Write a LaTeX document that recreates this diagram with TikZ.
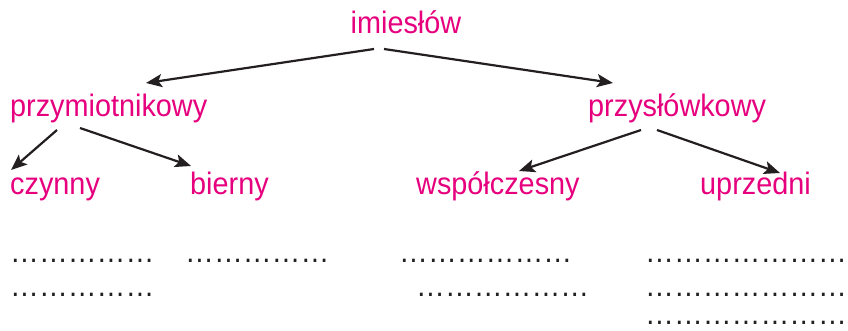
\documentclass[tikz,border=0pt]{standalone}
\usepackage{fontspec}
\setmainfont{Liberation Sans}
\newfontfamily\labfont[FakeStretch=0.93]{Liberation Sans}
\usetikzlibrary{arrows.meta}
\definecolor{pinkc}{HTML}{E6007E}
\definecolor{darkc}{HTML}{231F20}
\tikzset{
  lab/.style={inner sep=0pt, text=pinkc, font=\labfont\fontsize{31}{31}\selectfont},
  dots/.style={inner sep=0pt, text=darkc, font=\labfont\fontsize{31}{31}\selectfont},
  arr/.style={draw=darkc, line width=2.2pt, -{Stealth[length=16pt,width=13pt,inset=3.5pt]}}
}
\begin{document}
\begin{tikzpicture}[x=1pt,y=-1pt]
\useasboundingbox (0,0) rectangle (848,331);
\node[lab, anchor=base] (im) at (406,34) {imiesłów};
\node[lab, anchor=base west] (pm) at (10,117) {przymiotnikowy};
\node[lab, anchor=base west] (ps) at (588,117) {przysłówkowy};
\node[lab, anchor=base west] (cz) at (10,195) {czynny};
\node[lab, anchor=base west] (bi) at (190,195) {bierny};
\node[lab, anchor=base west] (ws) at (416,195) {współczesny};
\node[lab, anchor=base west] (up) at (700,195) {uprzedni};

\draw[arr] ([shift={(-32,15)}]im.base) -- ([shift={(136,-34)}]pm.base west);
\draw[arr] ([shift={(-22,15)}]im.base) -- ([shift={(25,-34)}]ps.base west);
\draw[arr] ([shift={(47,13)}]pm.base west) -- ([shift={(1,-25)}]cz.base west);
\draw[arr] ([shift={(70,11)}]pm.base west) -- ([shift={(1,-29)}]bi.base west);
\draw[arr] ([shift={(53,13)}]ps.base west) -- ([shift={(103,-24)}]ws.base west);
\draw[arr] ([shift={(69,13)}]ps.base west) -- ([shift={(80,-22)}]up.base west);

\node[dots, anchor=base west] (d11) at (10,262) {……………};
\node[dots, anchor=base west] (d12) at (185,262) {……………};
\node[dots, anchor=base west] (d13) at (399,262) {………………};
\node[dots, anchor=base west] (d14) at (645,262) {…………………};
\node[dots, anchor=base west] (d21) at (10,296) {……………};
\node[dots, anchor=base west] (d23) at (416,296) {………………};
\node[dots, anchor=base west] (d24) at (645,296) {…………………};
\node[dots, anchor=base west] (d34) at (645,324) {…………………};
\end{tikzpicture}
\end{document}
